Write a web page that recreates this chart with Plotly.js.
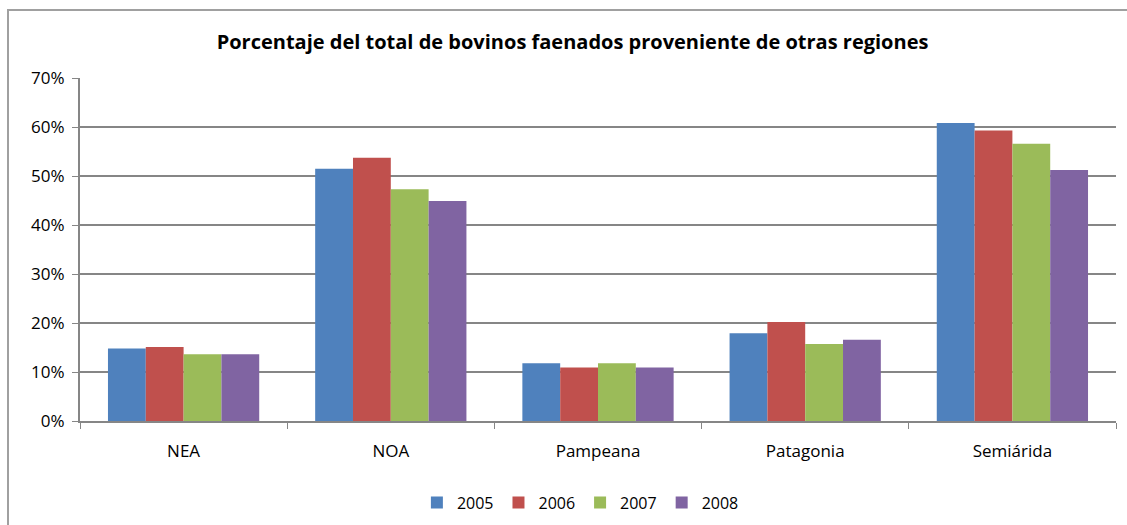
<!DOCTYPE html>
<html>
<head>
<meta charset="utf-8">
<script src="https://cdn.plot.ly/plotly-3.0.1.min.js"></script>
<style>
html,body{margin:0;padding:0;background:#fff;}
#frame{position:absolute;left:7px;top:9px;width:1140px;height:540px;border:2px solid #a0a0a0;box-sizing:border-box;}
#chart{position:absolute;left:0;top:0;width:1127px;height:525px;}
</style>
</head>
<body>
<div id="frame"></div>
<div id="chart"></div>
<script>
const categories = ["NEA", "NOA", "Pampeana", "Patagonia", "Semiárida"];
const years = ["2005", "2006", "2007", "2008"];
const v2005 = [0.148, 0.515, 0.118, 0.179, 0.608];
const v2006 = [0.151, 0.537, 0.109, 0.202, 0.593];
const v2007 = [0.136, 0.473, 0.118, 0.157, 0.566];
const v2008 = [0.136, 0.449, 0.109, 0.166, 0.512];
const colors = ["#4f81bd", "#c0504d", "#9bbb59", "#8064a2"];
const series = [v2005, v2006, v2007, v2008];

const traces = series.map((vals, i) => ({
  type: "bar",
  name: years[i],
  x: categories,
  y: vals,
  marker: {color: colors[i], line: {width: 0}},
  hoverinfo: "none"
}));

const layout = {
  width: 1127, height: 525,
  paper_bgcolor: "rgba(0,0,0,0)",
  plot_bgcolor: "rgba(0,0,0,0)",
  margin: {l: 80, r: 11, t: 78, b: 104, autoexpand: false},
  font: {family: "Open Sans, sans-serif", color: "#000", size: 15},
  title: {
    text: "<b>Porcentaje del total de bovinos faenados proveniente de otras regiones</b>",
    x: 0.508, xanchor: "center", y: 0.92, yanchor: "middle",
    font: {family: "Open Sans, sans-serif", size: 20, color: "#000"}
  },
  barmode: "group",
  bargap: 0.27,
  bargroupgap: 0,
  xaxis: {
    type: "category",
    showline: true, linecolor: "#868686", linewidth: 2,
    ticks: "outside", tickson: "boundaries", ticklen: 6, tickcolor: "#868686", tickwidth: 1,
    showgrid: false,
    ticklabelstandoff: 14,
    tickfont: {family: "Open Sans, sans-serif", size: 17}
  },
  yaxis: {
    range: [0, 0.7],
    tickvals: [0, 0.1, 0.2, 0.3, 0.4, 0.5, 0.6, 0.7],
    tickformat: ".0%",
    showline: true, linecolor: "#868686", linewidth: 2,
    ticks: "outside", ticklen: 6, tickcolor: "#868686",
    showgrid: true, gridcolor: "#868686", gridwidth: 1.5,
    zeroline: false,
    ticklabelstandoff: 4,
    tickfont: {family: "Open Sans, sans-serif", size: 17}
  },
  legend: {
    orientation: "h", x: 0.483, xanchor: "center", y: -0.188, yanchor: "top",
    font: {family: "Open Sans, sans-serif", size: 16},
    itemwidth: 30, traceorder: "normal"
  },
  showlegend: true
};

Plotly.newPlot("chart", traces, layout, {displayModeBar: false, staticPlot: true});
</script>
</body>
</html>
